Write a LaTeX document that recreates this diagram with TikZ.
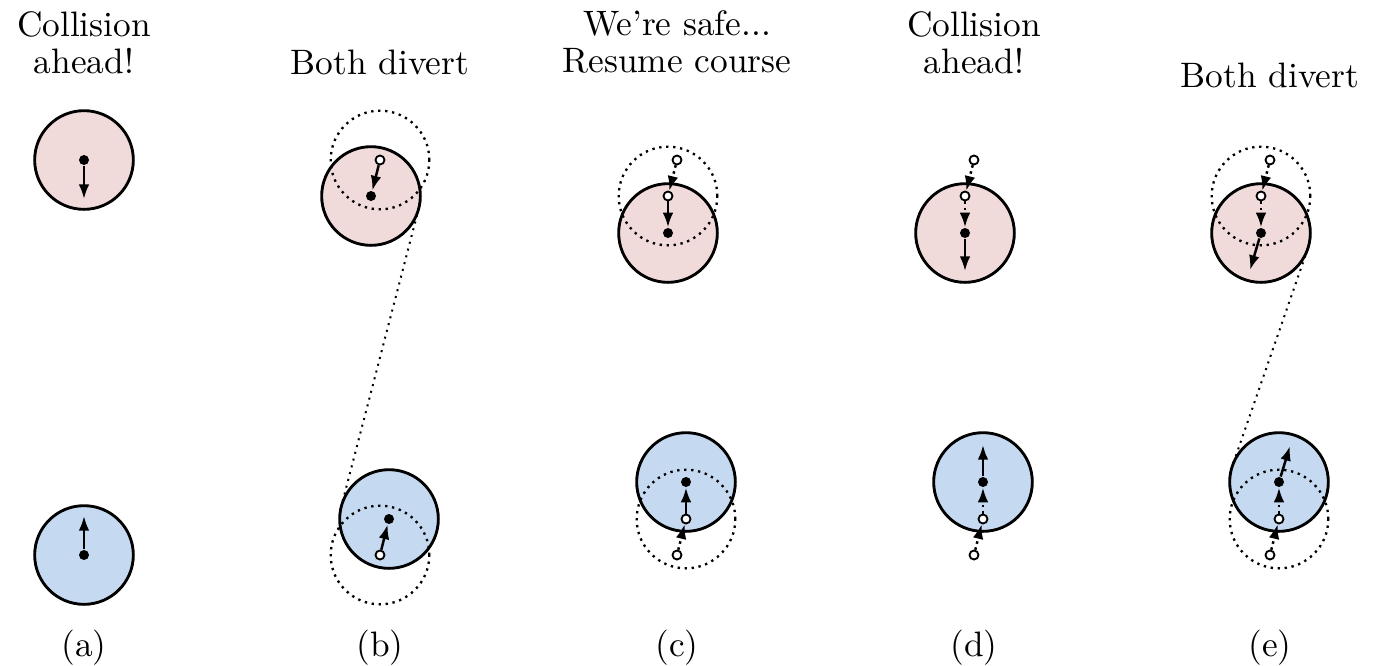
\documentclass[tikz,border=0pt]{standalone}
\usetikzlibrary{positioning}
\usetikzlibrary{calc}
\usetikzlibrary{arrows.meta}
\definecolor{botred}{RGB}{240,218,218}
\definecolor{botblue}{RGB}{197,217,240}

\begin{document}
\begin{tikzpicture}[x=0.3pt, y=-0.3pt,
    every node/.style={font=\fontsize{10.6}{11}\selectfont},
    body/.style={circle, draw, line width=0.85pt, inner sep=0pt, outer sep=0pt, minimum size=29.6pt},
    ghost/.style={circle, draw, line width=0.7pt, dash pattern=on 0.7pt off 1.4pt, inner sep=0pt, outer sep=0pt, minimum size=29.6pt},
    nowdot/.style={circle, fill, inner sep=0pt, minimum size=3pt},
    olddot/.style={circle, draw, fill=white, line width=0.55pt, inner sep=0pt, minimum size=2.7pt},
    move/.style={line width=0.75pt, -{Latex[length=4.4pt, width=3.2pt]}},
    trail/.style={move, dash pattern=on 0.75pt off 1.1pt},
    sight/.style={line width=0.6pt, dash pattern=on 0.6pt off 1.5pt}]
    \useasboundingbox (0,0) rectangle (1389,665);

    \foreach \n/\x/\y/\t in {a/84/73/{Collision\\ahead!}, b/380/74/{Both divert}, c/677/72/{We're safe...\\Resume course}, d/974/73/{Collision\\ahead!}, e/1270/87/{Both divert}} {
        \node[align=center, anchor=base] (title\n) at (\x,\y) {\t};
    }
    \foreach \n/\x in {a/84, b/380, c/677, d/974, e/1270} {
        \node[anchor=base] (lab\n) at (\x,656) {(\n)};
    }

    \node[body, fill=botred] (ra) at (84,160) {};
    \node[body, fill=botblue] (ba) at (84,555) {};
    \node[body, fill=botred] (rb) at (371,196) {};
    \node[body, fill=botblue] (bb) at (389,519) {};
    \foreach \n/\x in {c/677, d/974, e/1270} {
        \node[body, fill=botred] (r\n) at (\x-9,233) {};
        \node[body, fill=botblue] (b\n) at (\x+9,482) {};
    }

    \node[ghost] (rbg) at (380,160) {};
    \node[ghost] (bbg) at (380,555) {};
    \foreach \n/\x in {c/677, e/1270} {
        \node[ghost] (r\n g) at (\x-9,196) {};
        \node[ghost] (b\n g) at (\x+9,519) {};
    }
    \draw[sight] (rb.-14.6) -- (bb.165.4);
    \draw[sight] (re.-19.2) -- (be.160.8);

    \node[nowdot] (ra0) at (84,160) {};
    \node[nowdot] (ba0) at (84,555) {};
    \coordinate (rav) at (84,199);
    \coordinate (bav) at (84,516);
    \draw[move] (ra0) -- (rav);
    \draw[move] (ba0) -- (bav);

    \node[olddot] (rb0) at (380,160) {};
    \node[nowdot] (rb1) at (371,196) {};
    \node[olddot] (bb0) at (380,555) {};
    \node[nowdot] (bb1) at (389,519) {};
    \draw[move] (rb0) -- (rb1);
    \draw[move] (bb0) -- (bb1);

    \foreach \n/\x in {c/677, d/974, e/1270} {
        \node[olddot] (r\n0) at (\x,160) {};
        \node[olddot] (r\n1) at (\x-9,196) {};
        \node[nowdot] (r\n2) at (\x-9,233) {};
        \node[olddot] (b\n0) at (\x,555) {};
        \node[olddot] (b\n1) at (\x+9,519) {};
        \node[nowdot] (b\n2) at (\x+9,482) {};
        \draw[trail] (r\n0) -- (r\n1);
        \draw[trail] (b\n0) -- (b\n1);
    }
    \draw[move] (rc1) -- (rc2);
    \draw[move] (bc1) -- (bc2);

    \coordinate (rdv) at (965,271);
    \coordinate (bdv) at (983,445);
    \draw[trail] (rd1) -- (rd2);
    \draw[trail] (bd1) -- (bd2);
    \draw[move] (rd2) -- (rdv);
    \draw[move] (bd2) -- (bdv);

    \coordinate (rev) at (1250,270);
    \coordinate (bev) at (1290,446);
    \draw[trail] (re1) -- (re2);
    \draw[trail] (be1) -- (be2);
    \draw[move] (re2) -- (rev);
    \draw[move] (be2) -- (bev);
\end{tikzpicture}
\end{document}
